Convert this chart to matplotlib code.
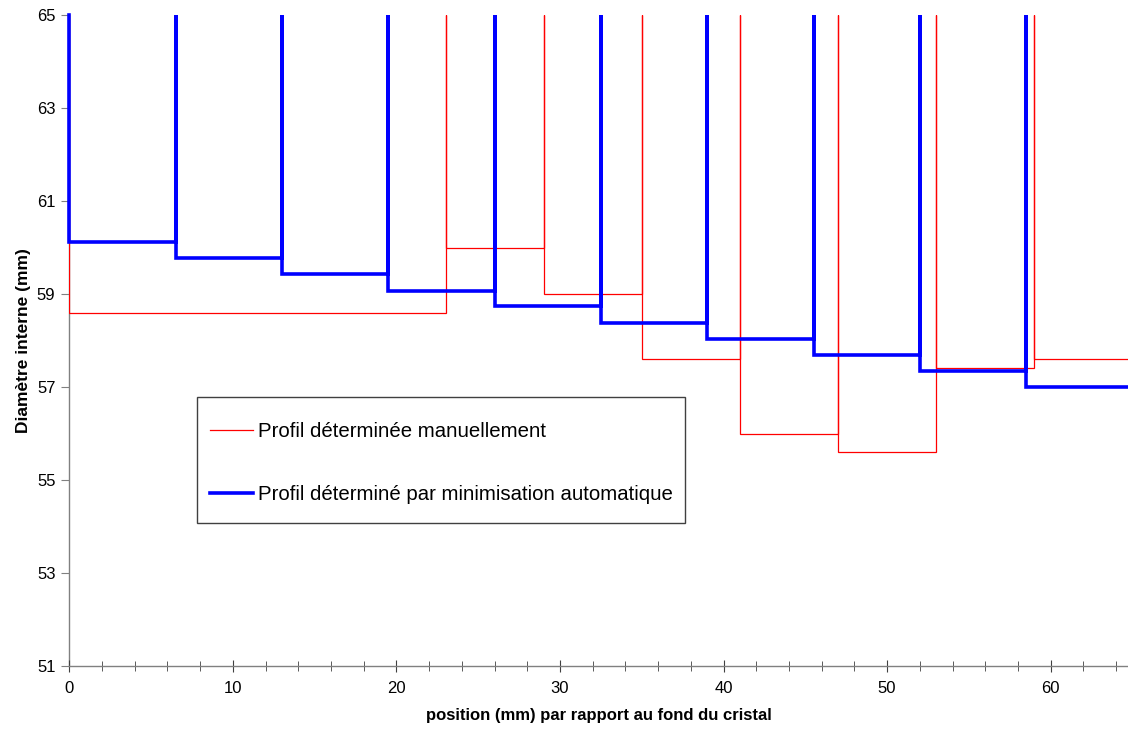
import matplotlib
matplotlib.use("Agg")
import matplotlib.pyplot as plt
from matplotlib.patches import Rectangle
import numpy as np

plt.rcParams['font.family'] = ['Liberation Sans', 'DejaVu Sans']

# Manual profile: segment boundaries (mm) and inner diameter (mm)
manual_edges = [0, 23, 29, 35, 41, 47, 53, 59, 65]
manual_diam = [58.6, 60.0, 59.0, 57.6, 56.0, 55.6, 57.4, 57.6]

# Automatic minimisation profile
auto_edges = [0, 6.5, 13, 19.5, 26, 32.5, 39, 45.5, 52, 58.5, 65]
auto_diam = [60.11, 59.77, 59.43, 59.07, 58.74, 58.38, 58.03, 57.68, 57.34, 56.99]

# Diameter reached at each junction between segments (top of scale)
junction_diam = 65.0

label_manual = "Profil déterminée manuellement"
label_auto = "Profil déterminé par minimisation automatique"


def step_profile(edges, diam, top):
    xs, ys = [], []
    for i, d in enumerate(diam):
        xs += [edges[i], edges[i], edges[i + 1]]
        ys += [top, d, d]
    xs.append(edges[-1])
    ys.append(top)
    return np.array(xs), np.array(ys)


W, H = 1128, 734
fig = plt.figure(figsize=(W / 100, H / 100), dpi=100)
x0, x1 = 69.3, 1128
y0, y1 = 666, 15
ax = fig.add_axes([x0 / W, 1 - y0 / H, (x1 - x0) / W, (y0 - y1) / H])


def axfrac(px, py):
    return (px - x0) / (x1 - x0), (y0 - py) / (y0 - y1)


xmax = (x1 - x0) / ((1050.7 - 69.3) / 60)
ax.set_xlim(0, xmax)
ax.set_ylim(51, 65)

xm, ym = step_profile(manual_edges, manual_diam, junction_diam)
xa, ya = step_profile(auto_edges, auto_diam, junction_diam)
lm, = ax.plot(xm, ym, color='#FF0000', lw=0.9, label=label_manual, solid_joinstyle='miter')
la, = ax.plot(xa, ya, color='#0000FF', lw=2.6, label=label_auto, solid_joinstyle='miter',
              clip_on=False)

ax.set_yticks(np.arange(51, 66, 2))
ax.set_xticks(np.arange(0, 61, 10))
ax.set_xticks(np.arange(0, 65, 2), minor=True)

for s in ['top', 'right']:
    ax.spines[s].set_visible(False)
for s in ['left', 'bottom']:
    ax.spines[s].set_color('#808080')
    ax.spines[s].set_linewidth(1.0)
ax.spines['left'].set_zorder(1)

ax.tick_params(axis='y', which='major', direction='out', length=6, color='#808080',
               labelsize=12, pad=4)
ax.tick_params(axis='x', which='major', direction='inout', length=9, color='#404040',
               labelsize=12, pad=6)
ax.tick_params(axis='x', which='minor', direction='inout', length=7, color='#404040')

ax.set_xlabel("position (mm) par rapport au fond du cristal", fontsize=12, fontweight='bold',
              labelpad=9)
ax.set_ylabel("Diamètre interne (mm)", fontsize=12.5, fontweight='bold', labelpad=4)

# legend frame
fx0, fy0 = axfrac(197, 523)
fx1, fy1 = axfrac(685, 397)
ax.add_patch(Rectangle((fx0, fy0), fx1 - fx0, fy1 - fy0, transform=ax.transAxes,
                       facecolor='white', edgecolor='#404040', lw=1.0, zorder=4))

fs = 14.7
leg = ax.legend(loc='upper left', bbox_to_anchor=axfrac(210, 422.0),
                fontsize=fs, frameon=False,
                handlelength=2.12, handletextpad=0.25,
                labelspacing=2.15, borderpad=0, borderaxespad=0)
leg.set_zorder(5)

fig.savefig("out.png", dpi=100)
